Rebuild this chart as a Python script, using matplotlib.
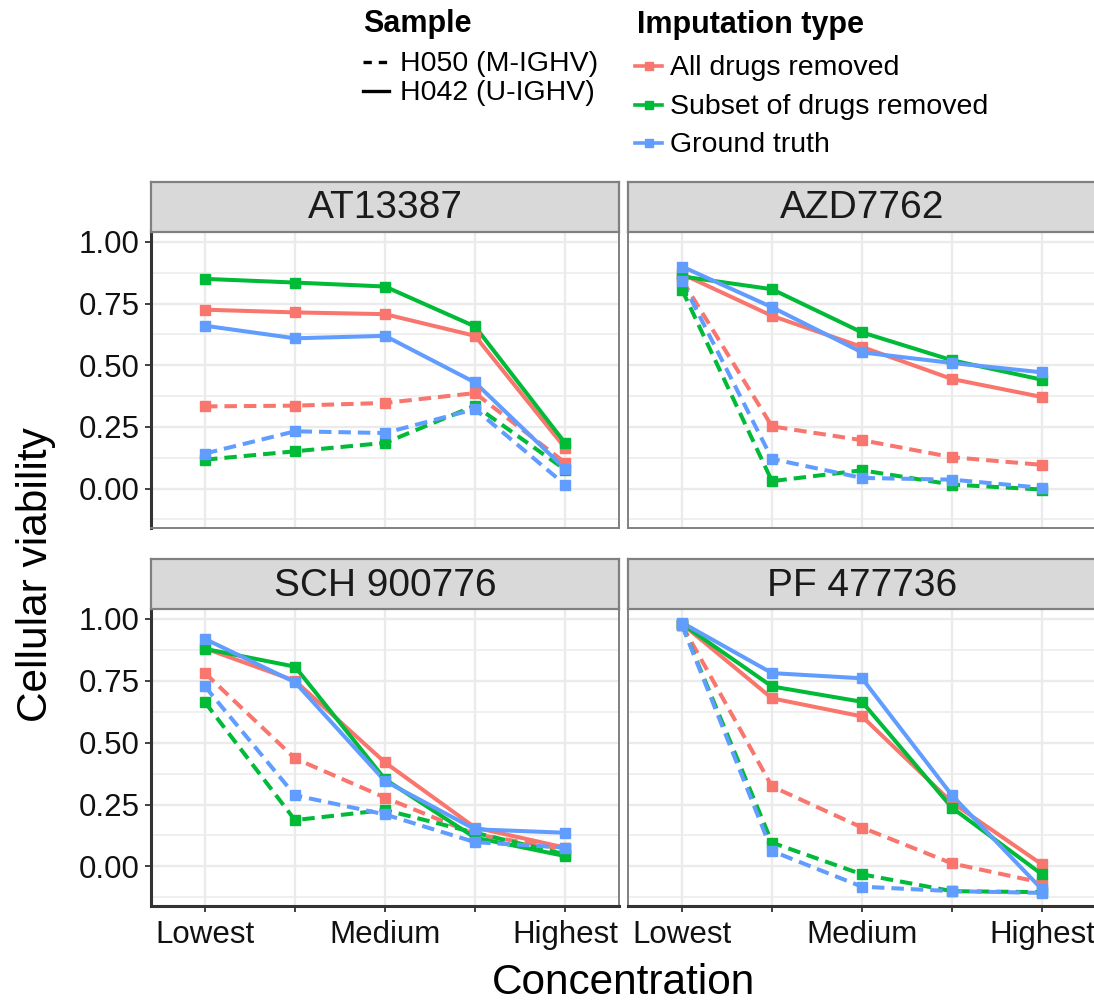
import matplotlib
matplotlib.use("Agg")
import matplotlib.pyplot as plt
from matplotlib.lines import Line2D

plt.rcParams['font.family'] = ['Liberation Sans', 'DejaVu Sans']
plt.rcParams['lines.scale_dashes'] = False

# ---------------- data ----------------
concentrations = [1, 2, 3, 4, 5]
conc_tick_labels = ["Lowest", "", "Medium", "", "Highest"]
drugs = ["AT13387", "AZD7762", "SCH 900776", "PF 477736"]
imputation_types = ["All drugs removed", "Subset of drugs removed", "Ground truth"]
imputation_colors = ["#F8766D", "#00BA38", "#619CFF"]
samples = ["H050 (M-IGHV)", "H042 (U-IGHV)"]
sample_styles = [(0, (9, 5)), "solid"]

# rows: All drugs removed, Subset of drugs removed, Ground truth
AT13387_H050 = [[0.333, 0.336, 0.347, 0.387, 0.105],
                [0.117, 0.151, 0.185, 0.336, 0.077],
                [0.142, 0.232, 0.225, 0.322, 0.016]]
AT13387_H042 = [[0.725, 0.714, 0.707, 0.619, 0.165],
                [0.850, 0.835, 0.819, 0.657, 0.185],
                [0.660, 0.609, 0.619, 0.430, 0.080]]
AZD7762_H050 = [[0.846, 0.252, 0.196, 0.127, 0.096],
                [0.806, 0.030, 0.074, 0.016, -0.004],
                [0.840, 0.120, 0.043, 0.036, 0.003]]
AZD7762_H042 = [[0.870, 0.700, 0.574, 0.444, 0.371],
                [0.860, 0.808, 0.633, 0.520, 0.441],
                [0.900, 0.735, 0.552, 0.509, 0.471]]
SCH900776_H050 = [[0.781, 0.436, 0.278, 0.130, 0.069],
                  [0.663, 0.187, 0.228, 0.136, 0.049],
                  [0.727, 0.287, 0.210, 0.098, 0.076]]
SCH900776_H042 = [[0.881, 0.750, 0.420, 0.157, 0.076],
                  [0.879, 0.807, 0.352, 0.116, 0.042],
                  [0.919, 0.744, 0.345, 0.150, 0.136]]
PF477736_H050 = [[0.975, 0.323, 0.157, 0.012, -0.066],
                 [0.975, 0.096, -0.032, -0.100, -0.104],
                 [0.975, 0.062, -0.082, -0.100, -0.107]]
PF477736_H042 = [[0.980, 0.679, 0.606, 0.258, 0.008],
                 [0.980, 0.727, 0.665, 0.237, -0.032],
                 [0.985, 0.781, 0.760, 0.287, -0.093]]

drug_data = {
    "AT13387": [AT13387_H050, AT13387_H042],
    "AZD7762": [AZD7762_H050, AZD7762_H042],
    "SCH 900776": [SCH900776_H050, SCH900776_H042],
    "PF 477736": [PF477736_H050, PF477736_H042],
}

# ---------------- layout ----------------
W, H = 1094, 1005
fig = plt.figure(figsize=(W / 100, H / 100), dpi=100)

def fx(px):
    return px / W

def fy(py):
    return 1 - py / H

panel_x = [(151, 619), (628, 1096)]
panel_y = [(232, 528), (609, 906)]
strip_h = 50
border_col = "#808080"
axis_col = "#333333"
grid_col = "#EBEBEB"

ylim = (-0.16, 1.04)
yticks = [0.0, 0.25, 0.5, 0.75, 1.0]
yminor = [-0.125, 0.125, 0.375, 0.625, 0.875]

for i, drug in enumerate(drugs):
    r, c = divmod(i, 2)
    x0, x1 = panel_x[c]
    y0, y1 = panel_y[r]
    ax = fig.add_axes([fx(x0), fy(y1), fx(x1 - x0), (y1 - y0) / H])
    ax.set_xlim(0.4, 5.6)
    ax.set_ylim(*ylim)
    ax.set_facecolor("white")
    for y in yminor:
        ax.axhline(y, color=grid_col, lw=1.1, zorder=0)
    for y in yticks:
        ax.axhline(y, color=grid_col, lw=1.7, zorder=0)
    for x in concentrations:
        ax.axvline(x, color=grid_col, lw=1.7, zorder=0)

    sets = drug_data[drug]
    for s, sample_vals in enumerate(sets):
        for k, vals in enumerate(sample_vals):
            ax.plot(concentrations, vals, color=imputation_colors[k],
                    linestyle=sample_styles[s], lw=2.9, zorder=2 + k)
    for s, sample_vals in enumerate(sets):
        for k, vals in enumerate(sample_vals):
            ax.plot(concentrations, vals, color=imputation_colors[k],
                    linestyle="none", marker="s", markersize=6.5, zorder=5 + k)

    ax.set_xticks(concentrations)
    ax.set_yticks(yticks)
    for sp in ax.spines.values():
        sp.set_color(border_col)
        sp.set_linewidth(1.4)
    if c == 0:
        ax.set_yticklabels(["0.00", "0.25", "0.50", "0.75", "1.00"], fontsize=22.5)
        ax.spines['left'].set_color(axis_col)
        ax.spines['left'].set_linewidth(2.2)
        ax.tick_params(axis='y', length=4, width=1.3, color=axis_col, pad=4, labelcolor="#111111")
    else:
        ax.tick_params(axis='y', length=0, labelleft=False)
    if r == 1:
        ax.set_xticklabels(conc_tick_labels, fontsize=22.5)
        ax.spines['bottom'].set_color(axis_col)
        ax.spines['bottom'].set_linewidth(2.2)
        ax.tick_params(axis='x', length=4, width=1.3, color=axis_col, pad=6, labelcolor="#111111")
    else:
        ax.tick_params(axis='x', length=0, labelbottom=False)

    # strip
    sax = fig.add_axes([fx(x0), fy(y0), fx(x1 - x0), strip_h / H])
    sax.set_xticks([])
    sax.set_yticks([])
    sax.set_facecolor("#D9D9D9")
    for sp in sax.spines.values():
        sp.set_color(border_col)
        sp.set_linewidth(1.6)
    sax.text(0.5, 0.47, drug, transform=sax.transAxes, ha="center", va="center",
             fontsize=28, color="#1A1A1A")

# axis titles
fig.text(fx(624), fy(983), "Concentration", ha="center", va="center", fontsize=30.5)
fig.text(fx(36), fy(575), "Cellular viability", ha="center", va="center",
         fontsize=30.5, rotation=90)

# ---------------- legends ----------------
fig.text(fx(363), fy(32), "Sample", ha="left", va="baseline", fontsize=22,
         fontweight="bold")
sample_key_y = [62, 91]
sample_text_base = [71, 100]
for s, name in enumerate(samples):
    ls = (0, (6, 5)) if s == 0 else "solid"
    fig.add_artist(Line2D([fx(363), fx(389)], [fy(sample_key_y[s])] * 2,
                          color="black", lw=2.4, linestyle=ls,
                          transform=fig.transFigure))
    fig.text(fx(400), fy(sample_text_base[s]), name, ha="left", va="baseline",
             fontsize=20.5)

fig.text(fx(637), fy(33), "Imputation type", ha="left", va="baseline",
         fontsize=22, fontweight="bold")
imp_key_y = [66, 105, 143]
imp_text_base = [75, 114, 152]
for k, name in enumerate(imputation_types):
    fig.add_artist(Line2D([fx(635), fx(662)], [fy(imp_key_y[k])] * 2,
                          color=imputation_colors[k], lw=2.6,
                          transform=fig.transFigure))
    fig.add_artist(Line2D([fx(648.5)], [fy(imp_key_y[k])], color=imputation_colors[k],
                          marker="s", markersize=5.5, linestyle="none",
                          transform=fig.transFigure))
    fig.text(fx(670), fy(imp_text_base[k]), name, ha="left", va="baseline",
             fontsize=20.5)

fig.savefig("out.png", dpi=100)
